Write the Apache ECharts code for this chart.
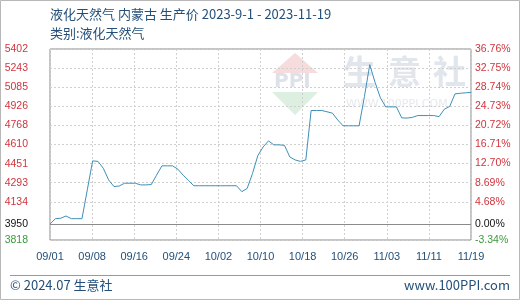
<!DOCTYPE html>
<html>
<head>
<meta charset="utf-8">
<script src="https://cdn.jsdelivr.net/npm/echarts@6/dist/echarts.min.js"></script>
<style>
html,body{margin:0;padding:0;background:#fff;}
#chart{width:520px;height:300px;}
</style>
</head>
<body>
<div id="chart"></div>
<script>
// ---- data ----
var titleText = '液化天然气 内蒙古 生产价 2023-9-1 - 2023-11-19';
var subTitleText = '类别:液化天然气';
var footerLeft = '© 2024.07 生意社';
var footerRight = 'www.100PPI.com';

var xTickLabels = ['09/01','09/08','09/16','09/24','10/02','10/10','10/18','10/26','11/03','11/11','11/19'];

// daily prices 2023-09-01 .. 2023-11-19 (80 days)
var prices = [
  3950, 3995, 3998, 4017, 3995, 3995, 3995, 4234, 4474, 4470,
  4413, 4316, 4261, 4266, 4289, 4289, 4289, 4275, 4275, 4278,
  4356, 4433, 4433, 4433, 4405, 4355, 4310, 4268, 4268, 4268,
  4268, 4268, 4268, 4268, 4268, 4268, 4219, 4246, 4370, 4518,
  4590, 4640, 4607, 4607, 4603, 4507, 4482, 4470, 4482, 4892,
  4892, 4892, 4881, 4870, 4813, 4765, 4765, 4765, 4765, 5007,
  5272, 5125, 4997, 4922, 4922, 4922, 4831, 4829, 4835, 4850,
  4850, 4850, 4850, 4841, 4903, 4925, 5030, 5035, 5039, 5041
];

var baseValue = 3950;
var leftTicks = [3818, 3950, 4134, 4293, 4451, 4610, 4768, 4926, 5085, 5243, 5402];
var rightTicks = [-3.34, 0.00, 4.68, 8.69, 12.70, 16.71, 20.72, 24.73, 28.74, 32.75, 36.76];

// ---- chart ----
var RED = '#d0353d', GREEN = '#3a9a3a', BLACK = '#111', BLUE = '#24507a';
var chart = echarts.init(document.getElementById('chart'), null, {renderer: 'canvas'});
var lineData = prices.map(function (v, i) { return [i, v]; });

function leftColor(v) { return v > baseValue ? RED : (v < baseValue ? GREEN : BLACK); }
function rightColor(v) { return v > 0 ? RED : (v < 0 ? GREEN : BLACK); }

var option = {
  animation: false,
  backgroundColor: '#fff',
  title: [
    {text: titleText, left: 50, top: 8, padding: 0,
     textStyle: {fontSize: 13, fontWeight: 'normal', color: BLUE, fontFamily: 'Noto Sans CJK SC'}},
    {text: subTitleText, left: 50, top: 27, padding: 0,
     textStyle: {fontSize: 13, fontWeight: 'normal', color: BLUE, fontFamily: 'Noto Sans CJK SC'}},
    {text: footerLeft, left: 10, top: 279, padding: 0,
     textStyle: {fontSize: 13, fontWeight: 'normal', color: BLUE, fontFamily: 'Noto Sans CJK SC'}},
    {text: footerRight, right: 10, top: 279, padding: 0,
     textStyle: {fontSize: 13, fontWeight: 'normal', color: BLUE, fontFamily: 'Noto Sans CJK SC'}}
  ],
  graphic: [
    {type: 'rect', shape: {x: 0.5, y: 0.5, width: 519, height: 299}, style: {fill: 'none', stroke: '#b8b8b8', lineWidth: 1}, silent: true},
    {type: 'line', shape: {x1: 10, y1: 275.5, x2: 510, y2: 275.5}, style: {stroke: '#999', lineWidth: 1}, silent: true},
    // watermark
    {type: 'polygon', shape: {points: [[272, 73], [295, 53], [318, 73]]}, style: {fill: '#f6dcdc'}, silent: true, z: -1},
    {type: 'polygon', shape: {points: [[272, 92], [318, 92], [295, 115]]}, style: {fill: '#dcefe0'}, silent: true, z: -1},
    {type: 'text', x: 274, y: 72, style: {text: 'PPI', font: 'bold 20px DejaVu Sans', fill: '#dde2ea'}, silent: true, z: -1},
    {type: 'text', x: 343, y: 55, style: {text: '生', font: 'bold 33px Noto Sans CJK SC', fill: '#e1e5ec'}, silent: true, z: -1},
    {type: 'text', x: 388, y: 55, style: {text: '意', font: 'bold 33px Noto Sans CJK SC', fill: '#e1e5ec'}, silent: true, z: -1},
    {type: 'text', x: 433, y: 55, style: {text: '社', font: 'bold 33px Noto Sans CJK SC', fill: '#e1e5ec'}, silent: true, z: -1},
    {type: 'text', x: 346, y: 99, style: {text: 'WWW.100PPI.COM', font: '11px DejaVu Sans', fill: '#e6e9ee'}, silent: true, z: -1}
  ],
  grid: {left: 50, right: 49, top: 49, bottom: 60, show: true, borderColor: '#8a8a8a', borderWidth: 1, backgroundColor: 'transparent'},
  xAxis: {
    type: 'value', min: 0, max: prices.length - 1, interval: 7.9,
    axisLine: {show: false}, axisTick: {show: false},
    axisLabel: {
      margin: 11, color: BLUE, fontSize: 11, fontFamily: 'Liberation Sans',
      formatter: function (v, idx) { return xTickLabels[Math.round(v / 7.9)]; }
    },
    splitLine: {show: true, lineStyle: {color: '#cfcfcf', type: [2, 2], width: 1}}
  },
  yAxis: [
    {
      type: 'value', min: leftTicks[0], max: leftTicks[leftTicks.length - 1],
      axisLine: {show: false},
      axisTick: {show: false, customValues: leftTicks},
      axisLabel: {
        customValues: leftTicks, margin: 22, fontSize: 10.5, fontFamily: 'Liberation Sans',
        formatter: function (v) { return String(Math.round(v)); },
        color: function (v) { return leftColor(Number(v)); }
      },
      splitLine: {show: true, lineStyle: {color: '#cfcfcf', type: [2, 2], width: 1}}
    },
    {
      type: 'value', min: rightTicks[0], max: rightTicks[rightTicks.length - 1], position: 'right',
      axisLine: {show: false},
      axisTick: {show: false, customValues: rightTicks},
      axisLabel: {
        customValues: rightTicks, margin: 4, fontSize: 10.5, fontFamily: 'Liberation Sans',
        formatter: function (v) { return Number(v).toFixed(2) + '%'; },
        color: function (v) { return rightColor(Number(v)); }
      },
      splitLine: {show: false}
    }
  ],
  series: [{
    type: 'line', data: lineData, yAxisIndex: 0, showSymbol: false, symbol: 'none',
    lineStyle: {color: '#3f8fb8', width: 1}, itemStyle: {color: '#3f8fb8'},
    markLine: {
      silent: true, symbol: 'none', label: {show: false},
      lineStyle: {color: '#8a8a8a', type: 'solid', width: 1},
      data: [{yAxis: baseValue}]
    },
    z: 3
  }]
};
chart.setOption(option);
</script>
</body>
</html>
